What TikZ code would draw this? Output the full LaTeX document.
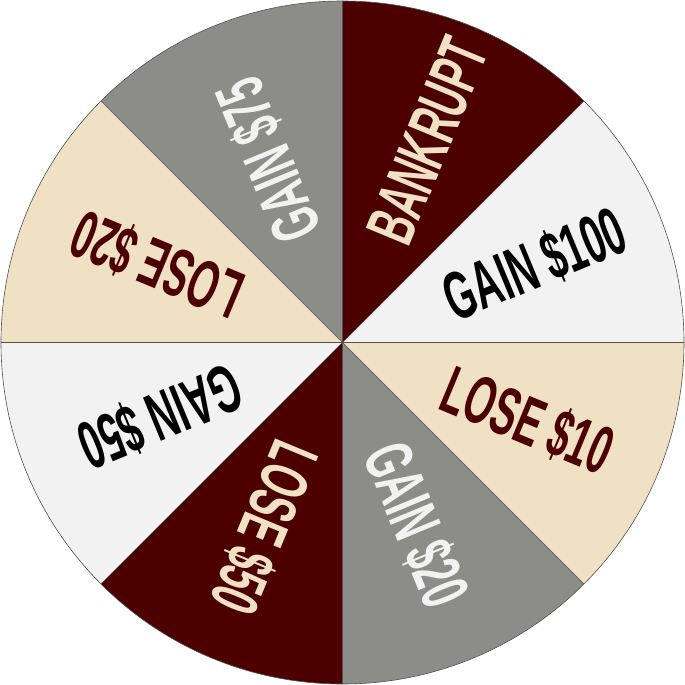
\documentclass[tikz,border=0pt]{standalone}
\usepackage{fontspec}
\setmainfont{Liberation Sans}
\newfontfamily\wheelfont[FakeStretch=0.56]{Liberation Sans}
\definecolor{wred}{HTML}{4C0000}
\definecolor{wgray}{HTML}{8C8C88}
\definecolor{wlight}{HTML}{F2F2F2}
\definecolor{wbeige}{HTML}{F0E1C5}
\definecolor{wline}{HTML}{505050}
\newcommand\wt[1]{{\wheelfont\bfseries\fontsize{68}{68}\selectfont #1}}
\tikzset{
  sepline/.style={draw=wline, line width=0.6pt},
  lbl/.style={inner sep=0pt, anchor=west, text height=49pt, text depth=0pt}
}
\newcommand\sector[2]{\fill[#2] (0,0) -- (#1:341.5) arc[start angle=#1, end angle=#1+45, radius=341.5] -- cycle;}
\begin{document}
\begin{tikzpicture}[x=1pt,y=1pt]
\useasboundingbox (-342.5,-342.5) rectangle (342.5,342.5);
\coordinate (c) at (0,0);
\sector{0}{wlight}
\sector{45}{wred}
\sector{90}{wgray}
\sector{135}{wbeige}
\sector{180}{wlight}
\sector{225}{wred}
\sector{270}{wgray}
\sector{315}{wbeige}
\foreach \a in {0,45,...,315} { \draw[sepline] (c) -- (\a:341.5); }
\draw[sepline] (c) circle (341.5);
\node[lbl, text=black, rotate=22.5] (t1) at (22.5:112) {\wt{GAIN \$100}};
\node[lbl, text=wbeige, rotate=67.5] (t2) at (67.5:112) {\wt{BANKRUPT}};
\node[lbl, text=wlight, rotate=112.5] (t3) at (112.5:112) {\wt{GAIN \$75}};
\node[lbl, text=wred, rotate=157.5] (t4) at (157.5:112) {\wt{LOSE \$20}};
\node[lbl, text=black, rotate=202.5] (t5) at (202.5:112) {\wt{GAIN \$50}};
\node[lbl, text=wbeige, rotate=247.5] (t6) at (247.5:112) {\wt{LOSE \$50}};
\node[lbl, text=wlight, rotate=292.5] (t7) at (292.5:112) {\wt{GAIN \$20}};
\node[lbl, text=wred, rotate=337.5] (t8) at (337.5:112) {\wt{LOSE \$10}};
\end{tikzpicture}
\end{document}
